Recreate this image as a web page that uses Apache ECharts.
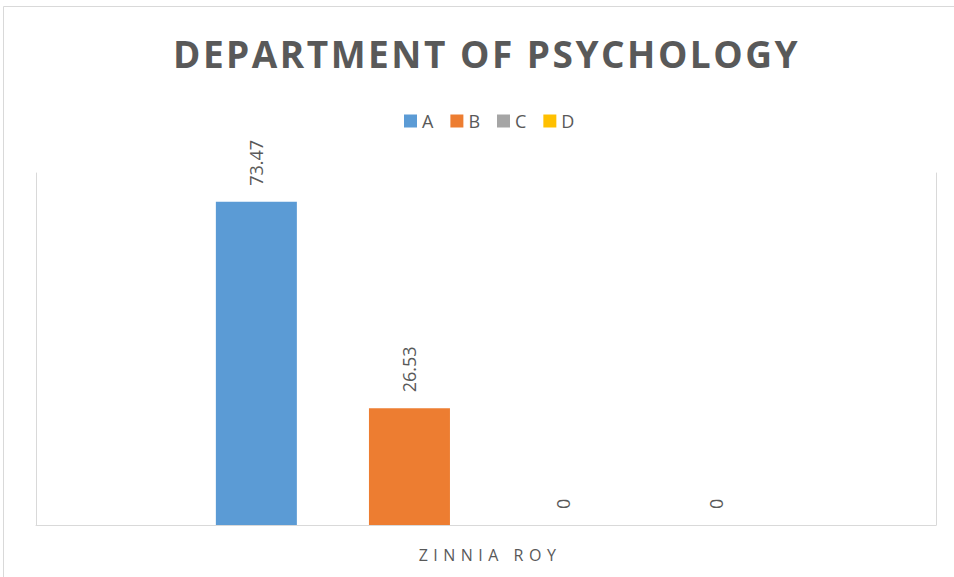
<!DOCTYPE html>
<html>
<head>
<meta charset="utf-8">
<script src="https://cdn.jsdelivr.net/npm/echarts@6/dist/echarts.min.js"></script>
<style>
  html, body { margin: 0; padding: 0; background: #fff; }
  #chart { width: 954px; height: 577px; }
</style>
</head>
<body>
<div id="chart"></div>
<script>
// chart data
var chartTitle = 'DEPARTMENT OF PSYCHOLOGY';
var categories = ['ZINNIA ROY'];
var seriesNames = ['A', 'B', 'C', 'D'];
var seriesValues = [[73.47], [26.53], [0], [0]];
var seriesColors = ['#5b9bd5', '#ed7d31', '#a5a5a5', '#ffc000'];

var textGray = '#595959';
var lineGray = '#d9d9d9';

var series = seriesNames.map(function (name, i) {
  return {
    name: name,
    type: 'bar',
    data: seriesValues[i],
    barWidth: 81,
    barGap: '89%',
    itemStyle: { color: seriesColors[i] },
    label: {
      show: true,
      position: 'top',
      rotate: 90,
      distance: 16,
      align: 'left',
      verticalAlign: 'middle',
      color: textGray,
      fontFamily: 'Open Sans',
      fontSize: 18
    }
  };
});

var chart = echarts.init(document.getElementById('chart'), null, { renderer: 'svg' });

// excel style spaced lettering for title and category label
function spaceLetters() {
  var texts = document.querySelectorAll('#chart text');
  texts.forEach(function (t) {
    if (t.textContent === chartTitle) t.style.letterSpacing = '2.5px';
    else if (categories.indexOf(t.textContent) >= 0) t.style.letterSpacing = '5.5px';
  });
}
chart.on('finished', spaceLetters);

chart.setOption({
  animation: false,
  backgroundColor: '#fff',
  graphic: [{
    type: 'rect',
    shape: { x: 3.5, y: 6.5, width: 960, height: 600 },
    style: { fill: 'none', stroke: lineGray, lineWidth: 1 },
    silent: true
  }],
  title: {
    text: chartTitle,
    left: 168,
    top: 30,
    textStyle: {
      fontFamily: 'Open Sans',
      fontWeight: 'bold',
      fontSize: 37,
      color: textGray
    }
  },
  legend: {
    data: seriesNames,
    top: 107,
    left: 399,
    icon: 'rect',
    itemWidth: 13,
    itemHeight: 13,
    itemGap: 17,
    textStyle: { color: textGray, fontSize: 18, fontFamily: 'Open Sans' }
  },
  grid: { left: 36, right: 18, top: 173, bottom: 52 },
  xAxis: {
    type: 'category',
    data: categories,
    axisLine: { lineStyle: { color: lineGray, width: 1 } },
    axisTick: { show: false },
    axisLabel: {
      color: textGray,
      fontSize: 16,
      fontFamily: 'Open Sans',
      margin: 22,
      padding: [0, 0, 0, 8]
    }
  },
  yAxis: [{
    type: 'value',
    min: 0,
    max: 80,
    interval: 10,
    position: 'left',
    axisLine: { show: true, lineStyle: { color: lineGray } },
    axisLabel: { show: false },
    axisTick: { show: false },
    splitLine: { show: false }
  }, {
    type: 'value',
    min: 0,
    max: 80,
    interval: 10,
    position: 'right',
    axisLine: { show: true, lineStyle: { color: lineGray } },
    axisLabel: { show: false },
    axisTick: { show: false },
    splitLine: { show: false }
  }],
  series: series
});
spaceLetters();
setTimeout(spaceLetters, 0);
</script>
</body>
</html>
